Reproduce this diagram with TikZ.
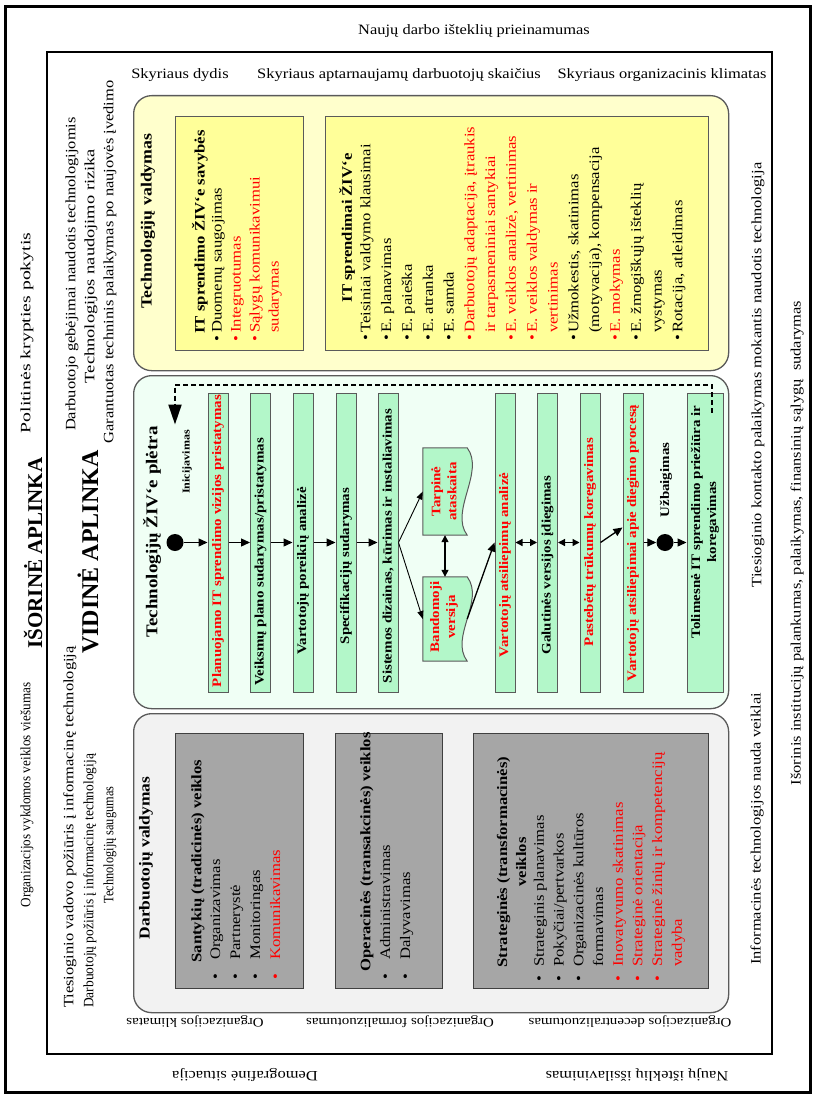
\documentclass[tikz,border=0pt]{standalone}
\usepackage{graphicx}
\usepackage{fontspec}
\setmainfont{Liberation Serif}[FakeStretch=1.15]
\newfontfamily\headfont{Liberation Serif}
\usetikzlibrary{arrows.meta}

\definecolor{panelyellow}{HTML}{FFFFCC}
\definecolor{boxyellow}{HTML}{FFFF99}
\definecolor{panelgreen}{HTML}{F0FFF5}
\definecolor{bargreen}{HTML}{B3F7C9}
\definecolor{panelgray}{HTML}{F2F2F2}
\definecolor{boxgray}{HTML}{A6A6A6}
\definecolor{edgegray}{HTML}{5A5A5A}
\definecolor{accent}{HTML}{FF0000}

\newcommand\fsz[2]{\fontsize{#1}{#2}\selectfont}
% horizontal squeeze or stretch of a label
\newcommand\hs[2]{\scalebox{#1}[1]{#2}}
% list row: colour, gap between bullet and text, text
\newcommand\itm[3]{\llap{\textcolor{#1}{\textbullet}\hspace{#2}}\textcolor{#1}{#3}}

\begin{document}
\begin{tikzpicture}[x=1pt,y=-1pt,
  lbl/.style={inner sep=0pt, font=\fsz{14.3}{19}},
  vlbl/.style={lbl, rotate=90},
  ulbl/.style={lbl, rotate=180, font=\fsz{13}{17}},
  panel/.style={draw=edgegray, line width=1.3pt, rounded corners=18pt, anchor=north west, inner sep=0pt},
  ybox/.style={draw=edgegray, line width=1pt, fill=boxyellow, anchor=north west, inner sep=0pt},
  gbox/.style={draw=black!75, line width=1pt, fill=boxgray, anchor=north west, inner sep=0pt},
  bar/.style={draw=edgegray, line width=1pt, fill=bargreen, rotate=90, minimum width=299pt, minimum height=20pt, inner sep=0pt},
  bartxt/.style={rotate=90, inner sep=0pt, font=\bfseries\fsz{13}{16}, align=center},
  paneltitle/.style={rotate=90, inner sep=0pt, font=\bfseries\fsz{15.5}{19}},
  boxtitle/.style={rotate=90, inner sep=0pt, font=\bfseries\fsz{14.5}{19}, align=center},
  itemlist/.style={rotate=90, inner sep=0pt, anchor=north west},
  flowdot/.style={circle, fill=black, minimum size=17pt, inner sep=0pt},
  flow/.style={-{Triangle[length=9pt,width=8pt]}, line width=1.3pt},
  thinflow/.style={-{Triangle[length=8pt,width=6pt]}, line width=0.9pt},
  twoway/.style={{Triangle[length=7pt,width=7pt]}-{Triangle[length=7pt,width=7pt]}, line width=1.3pt},
  docshape/.style={draw=edgegray, line width=1pt, fill=bargreen},
  returnpath/.style={dash pattern=on 5pt off 3pt, line width=2pt, -{Triangle[length=20pt,width=13pt]}},
]
\useasboundingbox (0,0) rectangle (813,1097);
\fill[white] (0,0) rectangle (813,1097);

% frames
\draw[line width=3pt] (5,7) rectangle (810,1092);
\draw[line width=2.5pt] (47,52) rectangle (772,1054);

% outer ring
\node[lbl] (newstaff) at (474,31) {Naujų darbo išteklių prieinamumas};
\node[vlbl] (policy) at (27,333) {\hs{1.2}{Politinės krypties pokytis}};
\node[vlbl, font=\headfont\bfseries\fsz{21}{24}] (outerenv) at (33,553) {IŠORINĖ APLINKA};
\node[vlbl] (publicity) at (27,795) {\hs{0.8}{Organizacijos vykdomos veiklos viešumas}};
\node[vlbl] (institutions) at (797,543) {Išorinis institucijų palankumas, palaikymas, finansinių sąlygų\ \ sudarymas};
\node[lbl, rotate=180] (demography) at (245,1075) {Demografinė situacija};
\node[lbl, rotate=180] (education) at (637,1075) {Naujų išteklių išsilavinimas};

% inner ring
\node[lbl] (deptsize) at (180,75) {Skyriaus dydis};
\node[lbl] (deptstaff) at (399,75) {Skyriaus aptarnaujamų darbuotojų skaičius};
\node[lbl] (deptclimate) at (662,75) {Skyriaus organizacinis klimatas};
\node[vlbl] (skills) at (72,274) {Darbuotojo gebėjimai naudotis technologijomis};
\node[vlbl] (risk) at (91,266) {\hs{1.12}{Technologijos naudojimo rizika}};
\node[vlbl] (support) at (110,262) {Garantuotas techninis palaikymas po naujovės įvedimo};
\node[vlbl, font=\headfont\bfseries\fsz{24}{27}] (innerenv) at (88,552) {VIDINĖ APLINKA};
\node[vlbl, anchor=west] (headview) at (70,1008) {Tiesioginio vadovo požiūris į informacinę technologiją};
\node[vlbl, anchor=west] (staffview) at (90,1008) {\hs{0.82}{Darbuotojų požiūris į informacinę technologiją}};
\node[vlbl] (security) at (110,845) {\hs{0.75}{Technologijų saugumas}};
\node[vlbl] (contact) at (758,375) {Tiesioginio kontakto palaikymas mokantis naudotis technologija};
\node[vlbl] (benefit) at (757,829) {Informacinės technologijos nauda veiklai};
\node[ulbl] (climate) at (195,1022) {Organizacijos klimatas};
\node[ulbl] (formal) at (400,1022) {Organizacijos formalizuotumas};
\node[ulbl] (decentral) at (630,1022) {Organizacijos decentralizuotumas};

% panels
\node[panel, fill=panelyellow, minimum width=595pt, minimum height=275pt] (techpanel) at (133,95) {};
\node[panel, fill=panelgreen, minimum width=595pt, minimum height=333pt] (devpanel) at (133,375) {};
\node[panel, fill=panelgray, minimum width=595pt, minimum height=299pt] (staffpanel) at (133,713) {};

% technology management
\node[paneltitle] (techtitle) at (148,221) {Technologijų valdymas};
\node[ybox, minimum width=128pt, minimum height=234pt] (yb1) at (175,116) {};
\node[ybox, minimum width=383pt, minimum height=234pt] (yb2) at (325,116) {};
\node[boxtitle] (yb1title) at (200,232) {IT sprendimo ŽIV‘e savybės};
\node[itemlist, font=\fsz{14.5}{19}] (yb1list) at (208,333) {\begin{tabular}{@{}l@{}}
\itm{black}{3pt}{Duomenų saugojimas}\\
\itm{accent}{3pt}{Integruotumas}\\
\itm{accent}{3pt}{Sąlygų komunikavimui}\\
\textcolor{accent}{sudarymas}
\end{tabular}};
\node[boxtitle] (yb2title) at (347,228) {IT sprendimai ŽIV‘e};
\node[itemlist, font=\fsz{14.5}{20.8}] (yb2list) at (355.6,333) {\begin{tabular}{@{}l@{}}
\itm{black}{2pt}{Teisiniai valdymo klausimai}\\
\itm{black}{2pt}{E. planavimas}\\
\itm{black}{2pt}{E. paieška}\\
\itm{black}{2pt}{E. atranka}\\
\itm{black}{2pt}{E. samda}\\
\itm{accent}{2pt}{Darbuotojų adaptacija, įtraukis}\\
\textcolor{accent}{ir tarpasmeniniai santykiai}\\
\itm{accent}{2pt}{E. veiklos analizė, vertinimas}\\
\itm{accent}{2pt}{E. veiklos valdymas ir}\\
\textcolor{accent}{vertinimas}\\
\itm{black}{2pt}{Užmokestis, skatinimas}\\
(motyvacija), kompensacija\\
\itm{accent}{2pt}{E. mokymas}\\
\itm{black}{2pt}{E. žmogiškųjų išteklių}\\
vystymas\\
\itm{black}{2pt}{Rotacija, atleidimas}
\end{tabular}};

% development life cycle
\node[paneltitle, font=\bfseries\fsz{16.5}{19}] (devtitle) at (152,532) {Technologijų ŽIV‘e plėtra};
\node[rotate=90, inner sep=0pt, font=\bfseries\fsz{10.5}{12}] (initlbl) at (187,462) {Inicijavimas};
\node[rotate=90, inner sep=0pt, font=\bfseries\fsz{13}{15}] (endlbl) at (666,480) {Užbaigimas};
\node[flowdot] (startdot) at (175,542.5) {};
\node[flowdot] (enddot) at (665,542.5) {};

\node[bar] (b1) at (218,542.5) {};
\node[bar] (b2) at (260.5,542.5) {};
\node[bar] (b3) at (303,542.5) {};
\node[bar] (b4) at (346,542.5) {};
\node[bar] (b5) at (388,542.5) {};
\node[bar] (b6) at (505,542.5) {};
\node[bar] (b7) at (547.5,542.5) {};
\node[bar] (b8) at (590,542.5) {};
\node[bar] (b9) at (633,542.5) {};
\node[bar, minimum height=36pt] (b10) at (705,542.5) {};

\node[bartxt, text=accent] (t1) at (218,541) {Planuojamo IT sprendimo vizijos pristatymas};
\node[bartxt] (t2) at (260.5,562) {Veiksmų plano sudarymas/pristatymas};
\node[bartxt] (t3) at (303,571) {Vartotojų poreikių analizė};
\node[bartxt] (t4) at (346,566) {Specifikacijų sudarymas};
\node[bartxt] (t5) at (388,546) {Sistemos dizainas, kūrimas ir instaliavimas};
\node[bartxt, text=accent] (t6) at (505,565) {Vartotojų atsiliepimų analizė};
\node[bartxt] (t7) at (547.5,565) {Galutinės versijos įdiegimas};
\node[bartxt, text=accent] (t8) at (590,542) {Pastebėtų trūkumų koregavimas};
\node[bartxt, text=accent] (t9) at (633,543) {Vartotojų atsiliepimai apie diegimo procesą};
\node[bartxt] (t10) at (705,522) {Tolimesnė IT sprendimo priežiūra ir\\koregavimas};

% documents
\node[minimum width=44pt, minimum height=87pt, inner sep=0pt] (docA) at (445,491.5) {};
\draw[docshape] (docA.north west) -- (docA.north east)
  .. controls +(18,24) and +(-18,-24) .. (docA.south east) -- (docA.south west) -- cycle;
\node[bartxt, text=accent] (docAtext) at (444,491.5) {Tarpinė\\ataskaita};
\node[minimum width=44pt, minimum height=84pt, inner sep=0pt] (docB) at (445,619) {};
\draw[docshape] (docB.north west) -- (docB.north east)
  .. controls +(18,24) and +(-18,-24) .. (docB.south east) -- (docB.south west) -- cycle;
\node[bartxt, text=accent] (docBtext) at (444,617) {Bandomoji\\versija};

% flow
\draw[flow] (startdot) -- (b1.north);
\draw[flow] (b1.south) -- (b2.north);
\draw[flow] (b2.south) -- (b3.north);
\draw[flow] (b3.south) -- (b4.north);
\draw[flow] (b4.south) -- (b5.north);
\draw[thinflow] (b5.south) -- (docA.west);
\draw[thinflow] (b5.south) -- (docB.west);
\draw[twoway] (docA.south) -- (docB.north);
\draw[flow] (docB.east) -- (b6.north);
\draw[twoway] (b6.south) -- (b7.north);
\draw[twoway] (b7.south) -- (b8.north);
\draw[flow] (b8.south) -- ([yshift=15pt]b9.north);
\draw[flow] (b9.south) -- (enddot);
\draw[flow] (enddot) -- (b10.north);
\coordinate (loopstart) at ([xshift=7pt,yshift=-20pt]b10.east);
\coordinate (loopend) at ([yshift=118pt]startdot.center);
\draw[returnpath] (loopstart) -- ++(0,-28) -| (loopend);

% staff management
\node[paneltitle, font=\bfseries\fsz{15.2}{19}] (stafftitle) at (146,858) {Darbuotojų valdymas};
\node[gbox, minimum width=128pt, minimum height=255pt] (gb1) at (175,733) {};
\node[gbox, minimum width=107pt, minimum height=255pt] (gb2) at (335,733) {};
\node[gbox, minimum width=235pt, minimum height=255pt] (gb3) at (473,733) {};
\node[boxtitle] (gb1title) at (198,861) {Santykių (tradicinės) veiklos};
\node[itemlist, font=\fsz{14.5}{20}] (gb1list) at (206,960) {\begin{tabular}{@{}l@{}}
\itm{black}{14pt}{Organizavimas}\\
\itm{black}{14pt}{Partnerystė}\\
\itm{black}{14pt}{Monitoringas}\\
\itm{accent}{14pt}{Komunikavimas}
\end{tabular}};
\node[boxtitle] (gb2title) at (367,852) {Operacinės (transakcinės) veiklos};
\node[itemlist, font=\fsz{14.5}{20}] (gb2list) at (376,960) {\begin{tabular}{@{}l@{}}
\itm{black}{14pt}{Administravimas}\\
\itm{black}{14pt}{Dalyvavimas}
\end{tabular}};
\node[boxtitle] (gb3title) at (511.5,862) {Strateginės (transformacinės)\\veiklos};
\node[itemlist, font=\fsz{14.5}{19.7}] (gb3list) at (530,967) {\begin{tabular}{@{}l@{}}
\itm{black}{9pt}{Strateginis planavimas}\\
\itm{black}{9pt}{Pokyčiai/pertvarkos}\\
\itm{black}{9pt}{Organizacinės kultūros}\\
formavimas\\
\itm{accent}{9pt}{Inovatyvumo skatinimas}\\
\itm{accent}{9pt}{Strateginė orientacija}\\
\itm{accent}{9pt}{Strateginė žinių ir kompetencijų}\\
\textcolor{accent}{vadyba}
\end{tabular}};
\end{tikzpicture}
\end{document}
